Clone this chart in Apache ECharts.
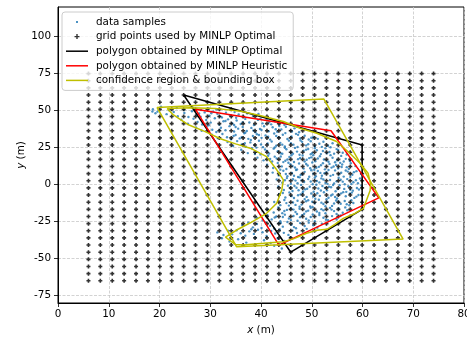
<!DOCTYPE html>
<html>
<head>
<meta charset="utf-8">
<script src="https://cdn.jsdelivr.net/npm/echarts@6/dist/echarts.min.js"></script>
<style>
  html, body { margin: 0; padding: 0; background: #fff; }
  #chart { width: 467px; height: 337px; }
</style>
</head>
<body>
<div id="chart"></div>
<script>
// Candidate grid coordinates (m)
const gridX = [6.00, 8.34, 10.69, 13.03, 15.38, 17.72, 20.07, 22.41, 24.76, 27.10,
  29.45, 31.79, 34.14, 36.48, 38.83, 41.17, 43.52, 45.86, 48.21, 50.55,
  52.90, 55.24, 57.59, 59.93, 62.28, 64.62, 66.97, 69.31, 71.66, 74.00];
const gridY = [-65.00, -60.17, -55.34, -50.52, -45.69, -40.86, -36.03, -31.21, -26.38, -21.55,
  -16.72, -11.90, -7.07, -2.24, 2.59, 7.41, 12.24, 17.07, 21.90, 26.72,
  31.55, 36.38, 41.21, 46.03, 50.86, 55.69, 60.52, 65.34, 70.17, 75.00];

// Measured sample positions (x, y) in metres
const dataSamples = [
  [18.7,50.9],[20.3,52.6],[21.9,50.2],[23.4,51.8],[24.8,50.6],[26.5,52.1],[28.2,50.4],[29.7,51.5],[19.6,49.3],[31.2,50.8],[18.6,49.4],[19.2,48.2],
  [21.4,47.6],[22.8,49.1],[23.6,46.2],[24.9,48.4],[25.7,45.7],[26.4,49.6],[27.3,47.2],[28.1,45.9],[28.9,48.8],[29.8,46.5],[30.6,49.3],[31.4,47.8],[32.3,45.4],[33.1,48.6],[33.9,46.9],[34.8,49.0],[35.6,47.4],[36.5,45.8],[37.3,48.1],[38.4,46.3],[39.5,47.7],[27.8,48.0],[31.9,46.1],[35.1,45.2],[30.2,48.2],
  [24.3,43.8],[25.6,41.2],[26.7,44.5],[27.5,42.3],[28.4,40.6],[29.2,43.6],[30.1,41.9],[30.9,44.8],[31.8,40.4],[32.6,42.8],[33.5,44.1],[34.3,41.5],[35.2,43.3],[36.0,40.9],[36.9,44.4],[37.7,42.0],[38.6,40.2],[39.4,43.7],[40.3,41.4],[41.1,44.0],[42.0,40.7],[42.8,42.6],[43.7,41.3],[44.6,40.4],[29.7,40.1],[33.0,43.0],[36.4,42.2],[39.9,44.6],[34.7,40.3],[41.6,42.1],
  [27.2,38.6],[28.3,36.4],[29.3,39.2],[30.4,37.1],[31.2,35.5],[32.1,38.4],[33.0,36.7],[33.8,39.5],[34.7,35.9],[35.5,37.8],[36.4,39.0],[37.2,36.2],[38.1,38.3],[38.9,35.3],[39.8,37.6],[40.6,39.4],[41.5,36.0],[42.3,38.7],[43.2,35.7],[44.0,37.3],[44.9,39.1],[45.8,36.5],[46.6,38.0],[47.5,35.4],[31.8,37.0],[36.9,35.1],[40.1,36.9],[43.6,39.6],[35.0,38.9],[46.1,35.9],[38.5,36.6],[42.9,37.4],
  [30.3,33.8],[31.5,31.4],[32.4,34.2],[33.3,32.0],[34.1,30.6],[35.0,33.5],[35.8,31.2],[36.7,34.7],[37.5,30.9],[38.4,32.8],[39.2,34.0],[40.1,31.6],[40.9,33.2],[41.8,30.4],[42.6,34.5],[43.5,31.9],[44.3,33.7],[45.2,30.8],[46.0,32.5],[46.9,34.3],[47.7,31.1],[48.6,33.0],[49.4,30.5],[50.3,32.2],[51.2,30.9],[34.6,32.9],[38.0,30.2],[41.4,32.4],[44.8,34.8],[47.3,33.6],[49.9,31.7],[36.2,32.1],[43.0,32.9],[39.6,33.5],
  [33.4,28.7],[34.5,26.1],[35.3,29.4],[36.2,27.2],[37.0,25.6],[37.9,28.5],[38.7,26.7],[39.6,29.6],[40.4,25.3],[41.3,27.8],[42.1,29.1],[43.0,26.3],[43.8,28.2],[44.7,25.8],[45.5,29.7],[46.4,27.0],[47.2,25.4],[48.1,28.9],[48.9,26.5],[49.8,29.3],[50.6,25.9],[51.5,27.6],[52.3,29.0],[53.2,26.2],[54.1,27.9],[36.8,28.0],[40.0,27.1],[42.7,25.1],[45.9,28.0],[49.3,27.3],[52.0,25.5],[44.2,27.0],[47.8,29.8],[39.1,25.0],[53.7,25.2],
  [36.1,23.5],[37.4,21.3],[38.2,24.6],[39.1,22.1],[39.9,20.4],[40.8,23.7],[41.6,21.0],[42.5,24.3],[43.3,22.6],[44.2,20.8],[45.0,23.9],[45.9,21.7],[46.7,24.8],[47.6,20.2],[48.4,22.9],[49.3,24.1],[50.1,21.4],[51.0,23.2],[51.8,20.6],[52.7,24.5],[53.5,22.0],[54.4,20.9],[55.2,23.4],[56.1,21.5],[56.9,20.3],[38.8,20.7],[41.2,22.8],[44.7,24.9],[47.1,22.3],[49.8,20.5],[52.2,22.7],[54.9,24.0],[43.9,21.1],[46.3,20.9],[50.6,24.6],[53.0,21.1],[48.9,23.6],
  [39.3,18.2],[40.5,16.4],[41.4,19.5],[42.2,15.6],[43.1,17.7],[43.9,19.0],[44.8,16.1],[45.6,18.6],[46.5,15.3],[47.3,17.2],[48.2,19.7],[49.0,16.8],[49.9,18.4],[50.7,15.8],[51.6,19.2],[52.4,17.0],[53.3,15.4],[54.1,18.1],[55.0,16.5],[55.8,19.4],[56.7,17.4],[57.5,15.9],[41.8,17.3],[44.4,15.2],[47.7,18.0],[50.3,19.9],[52.9,16.2],[46.0,19.8],[48.6,15.6],[51.2,17.6],[54.6,15.1],[53.7,19.9],[45.2,17.0],[49.5,17.9],[56.3,15.6],[42.7,18.9],
  [41.2,13.4],[42.4,11.2],[43.3,14.6],[44.1,12.3],[45.0,10.5],[45.8,13.8],[46.7,11.6],[47.5,14.3],[48.4,10.8],[49.2,12.9],[50.1,14.9],[50.9,11.4],[51.8,13.1],[52.6,10.3],[53.5,14.0],[54.3,12.2],[55.2,10.9],[56.0,13.6],[56.9,11.8],[57.7,14.5],[58.6,12.5],[43.8,10.1],[46.2,12.6],[48.9,13.9],[51.4,12.0],[53.9,11.5],[55.6,14.7],[47.1,10.2],[49.7,11.0],[52.2,14.4],[54.8,13.3],[57.3,10.6],[45.4,14.8],[50.5,10.0],[55.9,11.9],
  [42.3,8.1],[43.5,6.2],[44.4,9.4],[45.2,5.7],[46.1,7.8],[46.9,9.9],[47.8,6.5],[48.6,8.6],[49.5,5.3],[50.3,7.4],[51.2,9.2],[52.0,6.0],[52.9,8.3],[53.7,5.9],[54.6,9.6],[55.4,7.0],[56.3,5.4],[57.1,8.8],[58.0,6.7],[58.8,9.1],[59.7,7.3],[44.9,7.2],[47.3,5.1],[49.9,9.7],[51.7,7.9],[54.2,6.6],[56.7,9.5],[48.1,7.0],[50.8,5.6],[53.3,9.9],[55.8,8.0],[57.6,5.2],[46.5,6.0],[52.5,7.7],[58.3,8.4],
  [43.1,3.5],[44.2,1.2],[45.1,4.4],[45.9,0.6],[46.8,2.7],[47.6,4.9],[48.5,1.8],[49.3,3.8],[50.2,0.3],[51.0,2.4],[51.9,4.2],[52.7,1.1],[53.6,3.1],[54.4,0.8],[55.3,4.6],[56.1,2.0],[57.0,3.7],[57.8,0.4],[58.7,2.9],[59.5,4.1],[44.7,2.9],[47.2,0.9],[49.8,2.1],[52.3,3.4],[54.9,2.2],[56.5,0.2],[48.0,3.0],[50.6,4.7],[53.1,0.5],[55.7,3.3],[58.2,1.6],[46.3,3.6],[51.5,1.5],[59.1,0.9],
  [43.4,-1.2],[44.5,-3.6],[45.3,-0.7],[46.2,-4.3],[47.0,-2.1],[47.9,-0.2],[48.7,-3.2],[49.6,-1.5],[50.4,-4.8],[51.3,-2.6],[52.1,-0.9],[53.0,-3.9],[53.8,-1.8],[54.7,-4.5],[55.5,-0.4],[56.4,-2.9],[57.2,-1.1],[58.1,-4.1],[58.9,-2.3],[59.8,-0.6],[45.8,-2.5],[48.3,-4.6],[50.9,-0.1],[52.6,-2.2],[55.1,-3.0],[57.6,-3.5],[46.6,-0.9],[49.1,-2.8],[51.8,-4.0],[54.2,-0.3],[56.8,-4.9],[59.3,-3.3],[53.4,-1.4],[47.4,-3.8],
  [43.6,-6.4],[44.8,-8.7],[45.6,-5.3],[46.5,-9.1],[47.3,-7.2],[48.2,-5.6],[49.0,-8.3],[49.9,-6.0],[50.7,-9.6],[51.6,-7.6],[52.4,-5.2],[53.3,-8.9],[54.1,-6.7],[55.0,-9.4],[55.8,-5.9],[56.7,-7.9],[57.5,-6.2],[58.4,-9.0],[59.2,-7.0],[46.0,-7.8],[48.6,-9.8],[51.1,-5.8],[53.8,-7.4],[56.2,-5.1],[58.8,-8.1],[47.8,-6.6],[50.3,-8.0],[52.9,-9.9],[55.4,-6.9],[57.9,-5.4],[44.3,-5.7],[54.6,-8.4],
  [42.6,-11.8],[43.8,-13.9],[44.6,-10.4],[45.5,-14.2],[46.3,-12.1],[47.2,-10.9],[48.0,-13.5],[48.9,-11.3],[49.7,-14.7],[50.6,-12.6],[51.4,-10.2],[52.3,-13.1],[53.1,-11.7],[54.0,-14.4],[54.8,-10.7],[55.7,-12.9],[56.5,-11.1],[57.4,-14.0],[58.2,-12.4],[45.0,-12.5],[47.6,-14.9],[50.1,-11.6],[52.7,-14.6],[55.3,-11.5],[57.8,-10.5],[46.8,-13.7],[49.3,-10.6],[51.9,-12.2],[54.4,-12.8],[56.9,-13.3],
  [41.3,-16.8],[42.5,-18.9],[43.4,-15.5],[44.2,-19.3],[45.1,-17.1],[45.9,-15.9],[46.8,-18.5],[47.6,-16.3],[48.5,-19.7],[49.3,-17.6],[50.2,-15.2],[51.0,-18.2],[51.9,-16.6],[52.7,-19.4],[53.6,-15.7],[54.4,-17.9],[55.3,-16.1],[56.1,-19.0],[57.0,-17.3],[44.6,-17.8],[47.1,-19.9],[49.8,-15.6],[52.3,-17.4],[54.9,-19.8],[56.6,-15.4],[46.4,-16.9],[48.9,-18.1],[51.5,-19.2],[53.9,-16.9],
  [39.2,-22.6],[40.4,-24.1],[41.3,-20.8],[42.1,-23.5],[43.0,-21.6],[43.8,-24.7],[44.7,-20.3],[45.5,-22.9],[46.4,-21.2],[47.2,-24.4],[48.1,-20.7],[48.9,-23.1],[49.8,-21.9],[50.6,-24.8],[51.5,-20.5],[52.3,-22.4],[53.2,-24.0],[54.0,-21.3],[54.9,-23.6],[55.7,-20.9],[42.7,-22.2],[45.9,-24.0],[47.7,-22.0],[50.2,-20.2],[52.8,-23.7],[44.3,-21.9],[49.4,-24.2],
  [36.3,-27.4],[37.5,-25.8],[38.4,-28.9],[39.2,-26.6],[40.1,-29.3],[40.9,-25.5],[41.8,-27.8],[42.6,-29.7],[43.5,-26.2],[44.3,-28.4],[45.2,-25.3],[46.0,-27.1],[46.9,-29.5],[47.7,-26.0],[48.6,-28.0],[49.4,-25.7],[50.3,-27.5],[51.1,-29.1],[52.0,-26.4],[43.9,-25.9],[46.5,-28.7],[49.0,-29.9],
  [31.4,-32.3],[32.6,-34.1],[33.5,-31.2],[34.3,-33.6],[35.2,-30.8],[36.0,-32.9],[36.9,-34.5],[37.7,-31.6],[38.6,-33.3],[39.4,-30.5],[40.3,-32.2],[41.1,-34.7],[42.0,-31.4],[42.8,-33.0],[43.7,-30.3],[44.5,-32.6],[45.4,-34.0],[46.2,-31.0],[47.1,-32.7],[38.1,-30.2],
  [32.3,-36.2],[33.8,-38.4],[35.5,-36.9],[37.1,-39.2],[38.9,-35.8],[40.6,-37.6],[41.9,-39.5],[43.3,-36.4],[44.6,-38.1],[45.8,-35.5],[42.6,-41.3],[44.1,-43.2]
];

// Polygon vertices (closed)
const optimalPolygon = [[24.76,60.52],[59.93,26.72],[59.93,-16.72],[45.86,-45.69],[24.76,60.52]];
const heuristicPolygon = [[27.10,50.86],[53.8,36.4],[63.2,-9.0],[43.52,-40.86],[27.10,50.86]];
const boundingBox = [[19.5,52.1],[52.4,57.8],[68.0,-36.8],[35.2,-42.0],[19.5,52.1]];
const confidenceRegion = [
  [21.5,51.5],[26,52],[31,51.5],[36,49.5],[40,46.5],[44.4,42.6],[47.7,38.1],[51,34.7],[54.9,29.1],
  [57.5,21.2],[59.5,14.4],[61.1,7.7],[61.6,0],[61.5,-4],[60.8,-10.4],[60.2,-16],[58.5,-19.5],
  [56.2,-22.8],[54.5,-27],[53,-30.2],[51,-30.8],[49,-32.9],[46.5,-36.5],[44.4,-38.6],[40.5,-39.7],
  [36.5,-40.8],[35,-40.5],[33,-35.5],[35.2,-30.7],[37.9,-25.8],[41.1,-19.4],[43.1,-12.6],[44.1,-3.6],
  [44.4,3.2],[43.1,10],[41.1,18.9],[37.9,24.6],[35,27.5],[32,31],[29,35.8],[25.7,40.4],[22.6,47.5],[21.5,51.5]
];

// Axis ticks
const yTicks = [-75, -50, -25, 0, 25, 50, 75, 100];

const names = {
  samples: 'data samples',
  grid: 'grid points used by MINLP Optimal',
  optimal: 'polygon obtained by MINLP Optimal',
  heuristic: 'polygon obtained by MINLP Heuristic',
  conf: 'confidence region & bounding box'
};

const gridPoints = [];
for (const gx of gridX) for (const gy of gridY) gridPoints.push([gx, gy]);

const plusPath = 'path://M3,0 H7 V3 H10 V7 H7 V10 H3 V7 H0 V3 H3 Z';
const plusIcon = 'path://M0,0 M10,10 M4.3,2.5 H5.7 V4.3 H7.5 V5.7 H5.7 V7.5 H4.3 V5.7 H2.5 V4.3 H4.3 Z';
const dotIcon = 'path://M0,0 M10,10 M4,4 H6 V6 H4 Z';
const lineIcon = 'path://M0,0 H22 V1.5 H0 Z';

const FONT = 'DejaVu Sans';
const FS = 10.4;
const chart = echarts.init(document.getElementById('chart'), null, { renderer: 'canvas' });

const lineSeries = (name, data, color) => ({
  name, type: 'line', data, symbol: 'none', showSymbol: false,
  lineStyle: { color, width: 1.5 }, itemStyle: { color },
  z: 4, silent: true
});

const nameStyle = {
  color: '#000', fontSize: FS, fontFamily: FONT,
  rich: { i: { fontStyle: 'italic', fontSize: FS, fontFamily: FONT, color: '#000' } }
};

chart.setOption({
  animation: false,
  textStyle: { fontFamily: FONT },
  grid: { left: 58, right: 3, top: 7, bottom: 34, containLabel: false, outerBoundsMode: 'none',
    show: true, borderColor: '#000', borderWidth: 1, backgroundColor: 'transparent' },
  xAxis: {
    type: 'value', min: 0, max: 80, interval: 10,
    name: '{i|x} (m)', nameLocation: 'middle', nameGap: 22, nameMoveOverlap: false,
    nameTextStyle: nameStyle,
    axisLine: { show: true, onZero: false, lineStyle: { color: '#000', width: 1 } },
    axisTick: { show: true, length: 4, lineStyle: { color: '#000', width: 0.8 } },
    axisLabel: { color: '#000', fontSize: FS, fontFamily: FONT, margin: 6, showMaxLabel: true, showMinLabel: true },
    splitLine: { show: true, lineStyle: { color: '#c8c8c8', width: 0.8, type: [3, 1.5] } }
  },
  yAxis: {
    type: 'value', min: -80, max: 120,
    name: '{i|y} (m)', nameLocation: 'middle', nameGap: 32, nameRotate: 90, nameMoveOverlap: false,
    nameTextStyle: nameStyle,
    axisLine: { show: true, onZero: false, lineStyle: { color: '#000', width: 1 } },
    axisTick: { show: true, length: 4, customValues: yTicks, lineStyle: { color: '#000', width: 0.8 } },
    axisLabel: { color: '#000', fontSize: FS, fontFamily: FONT, margin: 7, customValues: yTicks },
    splitLine: { show: true, lineStyle: { color: '#c8c8c8', width: 0.8, type: [3, 1.5] } }
  },
  legend: {
    left: 62, top: 12, orient: 'vertical',
    itemWidth: 22, itemHeight: 10, itemGap: 4.6,
    padding: [5, 6, 5, 4],
    backgroundColor: 'rgba(255,255,255,0.8)', borderColor: '#cccccc', borderWidth: 1, borderRadius: 3,
    textStyle: { color: '#000', fontSize: FS, fontFamily: FONT, padding: [0, 0, 0, 3] },
    selectedMode: false,
    data: [
      { name: names.samples, icon: dotIcon },
      { name: names.grid, icon: plusIcon },
      { name: names.optimal, icon: lineIcon },
      { name: names.heuristic, icon: lineIcon },
      { name: names.conf, icon: lineIcon }
    ]
  },
  series: [
    { name: names.samples, type: 'scatter', data: dataSamples, symbol: 'circle', symbolSize: 2.4,
      itemStyle: { color: '#1f77b4' }, z: 2, silent: true },
    { name: names.grid, type: 'scatter', data: gridPoints, symbol: plusPath, symbolSize: 4,
      itemStyle: { color: '#000' }, z: 3, silent: true },
    lineSeries(names.optimal, optimalPolygon, '#000000'),
    lineSeries(names.heuristic, heuristicPolygon, '#ff0000'),
    lineSeries(names.conf, confidenceRegion, '#bfbf00'),
    lineSeries(names.conf, boundingBox, '#bfbf00')
  ]
});
</script>
</body>
</html>
